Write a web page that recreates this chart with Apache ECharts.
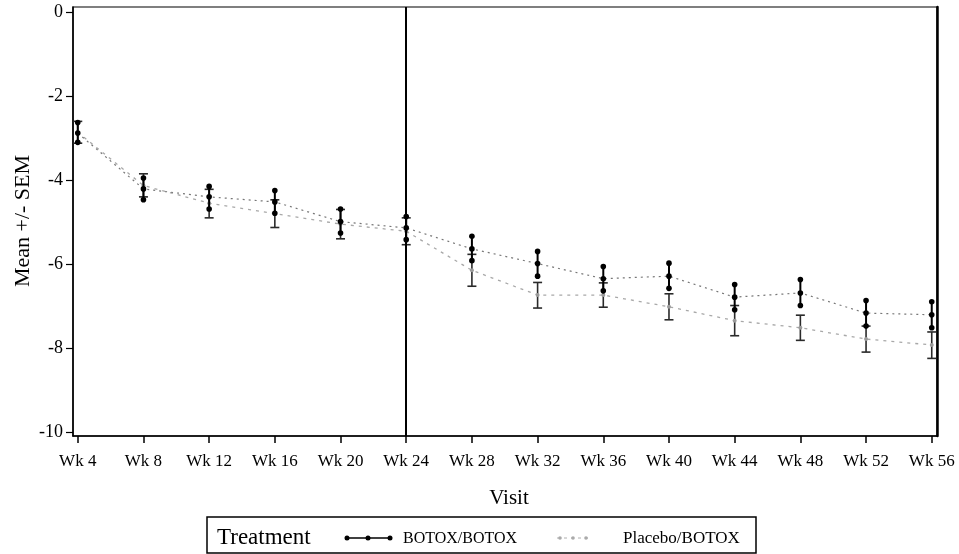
<!DOCTYPE html>
<html>
<head>
<meta charset="utf-8">
<script src="https://cdn.jsdelivr.net/npm/echarts@6/dist/echarts.min.js"></script>
<style>
html,body{margin:0;padding:0;background:#fff;}
#chart{width:959px;height:554px;}
</style>
</head>
<body>
<div id="chart"></div>
<script>
// ---- data ----
const weeks = [4, 8, 12, 16, 20, 24, 28, 32, 36, 40, 44, 48, 52, 56];
const weekLabels = weeks.map(w => 'Wk ' + w);
const yTicks = [0, -2, -4, -6, -8, -10];
const refWeek = 24;

const botoxMean  = [-2.88, -4.21, -4.40, -4.52, -4.99, -5.14, -5.64, -5.99, -6.35, -6.29, -6.79, -6.69, -7.17, -7.21];
const botoxUpper = [-2.63, -3.95, -4.15, -4.25, -4.69, -4.87, -5.34, -5.70, -6.06, -5.98, -6.49, -6.37, -6.87, -6.90];
const botoxLower = [-3.10, -4.47, -4.69, -4.79, -5.26, -5.42, -5.92, -6.29, -6.64, -6.58, -7.09, -6.99, -7.48, -7.52];

const placeboMean  = [-2.86, -4.13, -4.55, -4.80, -5.05, -5.22, -6.15, -6.74, -6.74, -7.02, -7.35, -7.52, -7.79, -7.93];
const placeboUpper = [-2.60, -3.85, -4.22, -4.47, -4.70, -4.90, -5.77, -6.44, -6.45, -6.71, -6.99, -7.22, -7.48, -7.62];
const placeboLower = [-3.12, -4.40, -4.90, -5.13, -5.40, -5.54, -6.53, -7.05, -7.03, -7.33, -7.71, -7.82, -8.10, -8.25];

const seriesNames = ['BOTOX/BOTOX', 'Placebo/BOTOX'];
const legendTitle = 'Treatment';
const xTitle = 'Visit';
const yTitle = 'Mean +/- SEM';

// ---- chart ----
const FONT = "'Liberation Serif', 'Times New Roman', serif";
const chart = echarts.init(document.getElementById('chart'), null, {renderer: 'canvas'});

const botoxBars = weeks.map((w, i) => [w, botoxLower[i], botoxMean[i], botoxUpper[i]]);
const placeboBars = weeks.map((w, i) => [w, placeboLower[i], placeboMean[i], placeboUpper[i]]);

function placeboRender(params, api) {
  const x = api.value(0);
  const pLo = api.coord([x, api.value(1)]);
  const pM = api.coord([x, api.value(2)]);
  const pHi = api.coord([x, api.value(3)]);
  const cw = 4.5;
  const st = {stroke: '#2a2a2a', lineWidth: 1.6};
  return {
    type: 'group',
    children: [
      {type: 'line', shape: {x1: pHi[0], y1: pHi[1], x2: pLo[0], y2: pLo[1]}, style: st},
      {type: 'line', shape: {x1: pHi[0] - cw, y1: pHi[1], x2: pHi[0] + cw, y2: pHi[1]}, style: st},
      {type: 'line', shape: {x1: pLo[0] - cw, y1: pLo[1], x2: pLo[0] + cw, y2: pLo[1]}, style: st},
      {type: 'circle', shape: {cx: pM[0], cy: pM[1], r: 2}, style: {fill: '#9a9a9a'}}
    ]
  };
}

function botoxRender(params, api) {
  const x = api.value(0);
  const pLo = api.coord([x, api.value(1)]);
  const pM = api.coord([x, api.value(2)]);
  const pHi = api.coord([x, api.value(3)]);
  const st = {stroke: '#000', lineWidth: 2};
  return {
    type: 'group',
    children: [
      {type: 'line', shape: {x1: pHi[0], y1: pHi[1], x2: pLo[0], y2: pLo[1]}, style: st},
      {type: 'circle', shape: {cx: pHi[0], cy: pHi[1], r: 2.8}, style: {fill: '#000'}},
      {type: 'circle', shape: {cx: pM[0], cy: pM[1], r: 2.8}, style: {fill: '#000'}},
      {type: 'circle', shape: {cx: pLo[0], cy: pLo[1], r: 2.8}, style: {fill: '#000'}}
    ]
  };
}

const legY = 538;
const option = {
  animation: false,
  backgroundColor: '#fff',
  grid: {left: 73, right: 22, top: 7, bottom: 118, show: true, borderColor: '#000', borderWidth: 1.2, containLabel: false},
  xAxis: {
    type: 'value', min: 3.71, max: 56.32,
    axisLine: {show: true, onZero: false, lineStyle: {color: '#000', width: 1.5}},
    axisTick: {show: true, length: 7, customValues: weeks, lineStyle: {color: '#000', width: 1.5}},
    axisLabel: {customValues: weeks, formatter: v => 'Wk ' + v, fontFamily: FONT, fontSize: 17, color: '#000', margin: 17},
    splitLine: {show: false}
  },
  yAxis: [{
    type: 'value', min: -10.10, max: 0.126,
    axisLine: {show: true, onZero: false, lineStyle: {color: '#000', width: 1.5}},
    axisTick: {show: true, length: 7, customValues: yTicks, lineStyle: {color: '#000', width: 1.2}},
    axisLabel: {customValues: yTicks, formatter: v => String(v), fontFamily: FONT, fontSize: 18, color: '#000', margin: 10},
    splitLine: {show: false}
  }, {
    type: 'value', min: -10.10, max: 0.126, position: 'right',
    axisLine: {show: true, onZero: false, lineStyle: {color: '#000', width: 2.5}},
    axisTick: {show: false}, axisLabel: {show: false}, splitLine: {show: false}
  }],
  series: [
    {
      name: seriesNames[1], type: 'line', data: weeks.map((w, i) => [w, placeboMean[i]]),
      symbol: 'none', lineStyle: {color: '#a8a8a8', width: 1.3, type: [3, 5]}, z: 2
    },
    {
      name: seriesNames[0], type: 'line', data: weeks.map((w, i) => [w, botoxMean[i]]),
      symbol: 'none', lineStyle: {color: '#777', width: 1.2, type: [2, 4]}, z: 3,
      markLine: {silent: true, symbol: 'none', label: {show: false},
        lineStyle: {color: '#000', width: 2, type: 'solid'}, data: [{xAxis: refWeek}]}
    },
    {name: seriesNames[1] + ' SEM', type: 'custom', data: placeboBars, renderItem: placeboRender,
      encode: {x: 0, y: [1, 2, 3]}, z: 4},
    {name: seriesNames[0] + ' SEM', type: 'custom', data: botoxBars, renderItem: botoxRender,
      encode: {x: 0, y: [1, 2, 3]}, z: 5}
  ],
  graphic: [
    {type: 'text', x: 23, y: 221, rotation: Math.PI / 2,
      style: {text: yTitle, font: '22px ' + FONT, fill: '#000', align: 'center', verticalAlign: 'middle'}},
    {type: 'text', x: 509, y: 498,
      style: {text: xTitle, font: '21px ' + FONT, fill: '#000', align: 'center', verticalAlign: 'middle'}},
    {type: 'rect', shape: {x: 207, y: 517, width: 549, height: 36},
      style: {fill: 'none', stroke: '#000', lineWidth: 1.5}},
    {type: 'text', x: 217, y: legY,
      style: {text: legendTitle, font: '23px ' + FONT, fill: '#000', align: 'left', verticalAlign: 'middle'}},
    {type: 'line', shape: {x1: 347, y1: legY, x2: 390, y2: legY}, style: {stroke: '#000', lineWidth: 1.5}},
    {type: 'circle', shape: {cx: 347, cy: legY, r: 2.5}, style: {fill: '#000'}},
    {type: 'circle', shape: {cx: 368, cy: legY, r: 2.5}, style: {fill: '#000'}},
    {type: 'circle', shape: {cx: 390, cy: legY, r: 2.5}, style: {fill: '#000'}},
    {type: 'text', x: 403, y: legY + 1,
      style: {text: seriesNames[0], font: '16px ' + FONT, fill: '#000', align: 'left', verticalAlign: 'middle'}},
    {type: 'line', shape: {x1: 557, y1: legY, x2: 589, y2: legY}, style: {stroke: '#b0b0b0', lineWidth: 1, lineDash: [3, 4]}},
    {type: 'circle', shape: {cx: 560, cy: legY, r: 1.8}, style: {fill: '#aaa'}},
    {type: 'circle', shape: {cx: 573, cy: legY, r: 1.8}, style: {fill: '#aaa'}},
    {type: 'circle', shape: {cx: 586, cy: legY, r: 1.8}, style: {fill: '#aaa'}},
    {type: 'text', x: 623, y: legY + 1,
      style: {text: seriesNames[1], font: '17px ' + FONT, fill: '#000', align: 'left', verticalAlign: 'middle'}}
  ]
};
chart.setOption(option);
</script>
</body>
</html>
